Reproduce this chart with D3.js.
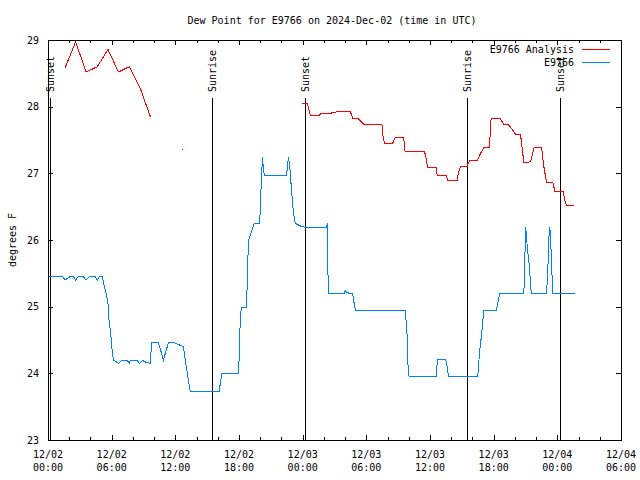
<!DOCTYPE html>
<html><head><meta charset="utf-8">
<script src="https://cdn.jsdelivr.net/npm/d3@7"></script>
<style>
body{margin:0;background:#fff}
text{font-family:"DejaVu Sans Mono",monospace;font-size:10px;fill:#000}
</style>
</head><body>
<svg id="c" width="640" height="480"></svg>
<script>
const title = "Dew Point for E9766 on 2024-Dec-02 (time in UTC)";
const yLabel = "degrees F";
const yTicks = [23, 24, 25, 26, 27, 28, 29];
const xTickHours = [0, 6, 12, 18, 24, 30, 36, 42, 48, 54];
const xTickDates = ["12/02", "12/02", "12/02", "12/02", "12/03", "12/03", "12/03", "12/03", "12/04", "12/04"];
const xTickTimes = ["00:00", "06:00", "12:00", "18:00", "00:00", "06:00", "12:00", "18:00", "00:00", "06:00"];
const xMinorHours = [2, 4, 8, 10, 14, 16, 20, 22, 26, 28, 32, 34, 38, 40, 44, 46, 50, 52];
const eventHours = [0.22, 15.46, 24.22, 39.49, 48.26];
const eventLabels = ["Sunset", "Sunrise", "Sunset", "Sunrise", "Sunset"];
const seriesNames = ["E9766 Analysis", "E9766"];
const seriesColors = ["#ff0000", "#0080ff"];

// [hours since 2024-12-02 00:00 UTC, dew point F]
const analysisEarly = [[1.6,28.58],[2.6,28.97],[3.6,28.52],[4.65,28.6],[5.65,28.86],[6.63,28.52],[7.67,28.6],[8.68,28.28],[9.65,27.85]];
const analysisDot = [[12.67,27.37]];
const analysisLate = [[23.93,28.05],[24.41,28.05],[24.56,27.98],[24.72,27.875],[25.57,27.875],[25.73,27.9],[26.7,27.9],[26.76,27.915],[27.55,27.925],[28.49,27.925],[28.71,27.83],[29.18,27.83],[29.72,27.74],[30.54,27.74],[31.48,27.725],[31.58,27.55],[31.7,27.45],[32.48,27.45],[32.74,27.54],[33.52,27.54],[33.65,27.335],[34.62,27.33],[35.5,27.32],[35.66,27.2],[35.78,27.09],[36.58,27.09],[36.67,26.975],[37.52,26.975],[37.67,26.9],[38.56,26.9],[38.71,27.03],[38.87,27.1],[39.5,27.1],[39.72,27.19],[40.44,27.19],[40.69,27.275],[41.07,27.39],[41.6,27.39],[41.76,27.83],[42.58,27.83],[42.95,27.74],[43.33,27.74],[43.68,27.675],[44.06,27.585],[44.53,27.585],[44.69,27.375],[44.84,27.165],[45.22,27.165],[45.47,27.175],[45.82,27.39],[46.51,27.39],[46.73,27.1],[46.98,26.865],[47.58,26.865],[47.76,26.735],[48.56,26.735],[48.68,26.61],[48.84,26.525],[49.56,26.525]];
const station = [[0.12,25.45],[1.39,25.45],[1.6,25.4],[2.08,25.45],[2.39,25.45],[2.61,25.4],[2.86,25.45],[3.33,25.45],[3.58,25.4],[3.9,25.45],[4.43,25.45],[4.65,25.4],[4.84,25.45],[5.12,25.45],[5.28,25.325],[5.54,25.15],[5.69,25.0],[5.75,24.8],[5.92,24.575],[6.01,24.4],[6.16,24.2],[6.63,24.15],[6.95,24.19],[7.48,24.19],[7.67,24.15],[7.74,24.19],[8.42,24.19],[8.61,24.15],[8.93,24.19],[9.25,24.165],[9.62,24.15],[9.78,24.46],[10.41,24.46],[10.88,24.2],[11.35,24.46],[11.89,24.46],[12.61,24.41],[12.76,24.4],[13.08,24.05],[13.4,23.735],[16.13,23.735],[16.39,24.0],[17.95,24.0],[18.02,24.25],[18.11,24.75],[18.21,24.99],[18.68,24.99],[18.75,25.225],[18.84,25.725],[18.9,26.0],[19.06,26.075],[19.22,26.15],[19.37,26.225],[19.46,26.25],[19.93,26.25],[20.0,26.425],[20.07,26.75],[20.16,27.075],[20.22,27.24],[20.31,27.025],[20.41,26.975],[22.45,26.975],[22.52,27.025],[22.61,27.175],[22.67,27.24],[22.77,27.125],[22.83,27.0],[22.9,26.85],[22.99,26.675],[23.08,26.5],[23.21,26.325],[23.3,26.25],[23.61,26.225],[23.93,26.2],[24.25,26.19],[26.29,26.19],[26.3,26.25],[26.35,26.0],[26.39,25.46],[26.48,25.2],[27.92,25.2],[28.02,25.24],[28.18,25.215],[28.4,25.2],[28.71,25.2],[28.8,25.1],[28.96,24.95],[33.68,24.95],[33.75,24.78],[33.9,24.45],[33.93,24.1],[34.03,23.95],[36.58,23.95],[36.67,24.15],[36.73,24.21],[37.48,24.21],[37.61,24.1],[37.76,23.95],[40.5,23.95],[40.59,24.15],[40.69,24.35],[40.82,24.525],[40.94,24.7],[41.07,24.95],[42.26,24.95],[42.39,25.05],[42.58,25.2],[44.84,25.2],[44.91,25.45],[45.0,26.19],[45.09,26.1],[45.16,25.9],[45.31,25.7],[45.41,25.5],[45.54,25.2],[46.98,25.2],[47.05,25.375],[47.14,25.7],[47.2,26.025],[47.29,26.2],[47.36,26.025],[47.45,25.7],[47.52,25.375],[47.58,25.2],[49.62,25.2]];

const base = Date.UTC(2024, 11, 2);
const toDate = h => new Date(base + h * 3600e3);
const L = 48, R = 621, T = 40, B = 440;

const x = d3.scaleUtc().domain([toDate(0), toDate(54)]).range([L, R]);
const y = d3.scaleLinear().domain([23, 29]).range([B, T]);
const svg = d3.select("#c");

// Title
svg.append("text").attr("x", 332).attr("y", 24).attr("text-anchor", "middle").text(title);
// Y label
svg.append("text").attr("transform", "translate(12,240) rotate(-90)")
  .attr("text-anchor", "middle").attr("dy", "0.35em").text(yLabel);

// Axes (ticks inward, mirrored)
const majorDates = xTickHours.map(toDate);
const minorDates = xMinorHours.map(toDate);
const gAx = svg.append("g").attr("shape-rendering", "crispEdges");
function tickOnly(g) { g.select(".domain").remove(); g.selectAll(".tick line").attr("stroke", "#000"); }
gAx.append("g").attr("transform", `translate(0,${B})`)
  .call(d3.axisBottom(x).tickValues(majorDates).tickSize(-5).tickFormat("")).call(tickOnly);
gAx.append("g").attr("transform", `translate(0,${T})`)
  .call(d3.axisTop(x).tickValues(majorDates).tickSize(-5).tickFormat("")).call(tickOnly);
gAx.append("g").attr("transform", `translate(0,${B})`)
  .call(d3.axisBottom(x).tickValues(minorDates).tickSize(-3).tickFormat("")).call(tickOnly);
gAx.append("g").attr("transform", `translate(0,${T})`)
  .call(d3.axisTop(x).tickValues(minorDates).tickSize(-3).tickFormat("")).call(tickOnly);
const gl = gAx.append("g").attr("transform", `translate(${L},0)`)
  .call(d3.axisLeft(y).tickValues(yTicks).tickSize(-5).tickPadding(9).tickFormat(d3.format("d")));
gl.select(".domain").remove();
gl.selectAll(".tick line").attr("stroke", "#000");
gl.selectAll(".tick text").attr("font-family", "DejaVu Sans Mono, monospace").attr("font-size", 10).attr("fill", "#000");
gAx.append("g").attr("transform", `translate(${R},0)`)
  .call(d3.axisRight(y).tickValues(yTicks).tickSize(-5).tickFormat("")).call(tickOnly);

// X tick labels (two lines)
const xl = svg.append("g").selectAll("text").data(majorDates).join("text")
  .attr("x", d => x(d)).attr("text-anchor", "middle");
xl.append("tspan").attr("x", d => x(d)).attr("y", 458).text((d, i) => xTickDates[i]);
xl.append("tspan").attr("x", d => x(d)).attr("y", 471).text((d, i) => xTickTimes[i]);

// Border
svg.append("rect").attr("x", L + 0.5).attr("y", T + 0.5).attr("width", R - L).attr("height", B - T)
  .attr("fill", "none").attr("stroke", "#000").attr("shape-rendering", "crispEdges");

// Sunrise / sunset markers
const ev = svg.append("g");
ev.selectAll("line").data(eventHours).join("line")
  .attr("x1", d => Math.round(x(toDate(d))) + 0.5).attr("x2", d => Math.round(x(toDate(d))) + 0.5)
  .attr("y1", 98).attr("y2", B).attr("stroke", "#000").attr("shape-rendering", "crispEdges");
ev.selectAll("text").data(eventHours).join("text")
  .attr("transform", d => `translate(${Math.round(x(toDate(d))) + 0.5},92) rotate(-90)`)
  .attr("dy", "0.35em").attr("text-anchor", "start").text((d, i) => eventLabels[i]);

// Series
const line = d3.line().x(d => x(toDate(d[0]))).y(d => y(d[1]));
const gs = svg.append("g").attr("fill", "none").attr("stroke-width", 1).attr("shape-rendering", "crispEdges");
[analysisEarly, analysisLate].forEach(s => gs.append("path").attr("d", line(s)).attr("stroke", seriesColors[0]));
gs.append("path").attr("d", line(station)).attr("stroke", seriesColors[1]);
svg.append("g").selectAll("rect").data(analysisDot).join("rect")
  .attr("x", d => Math.round(x(toDate(d[0])))).attr("y", d => Math.round(y(d[1])))
  .attr("width", 1).attr("height", 1).attr("fill", seriesColors[0]);

// Legend
const lg = svg.append("g");
seriesNames.forEach((n, i) => {
  const yy = 49 + i * 13;
  lg.append("text").attr("x", 574).attr("y", yy).attr("dy", "0.35em").attr("text-anchor", "end").text(n);
  lg.append("line").attr("x1", 582).attr("x2", 610).attr("y1", yy + 0.5).attr("y2", yy + 0.5)
    .attr("stroke", seriesColors[i]).attr("shape-rendering", "crispEdges");
});
</script>
</body></html>
